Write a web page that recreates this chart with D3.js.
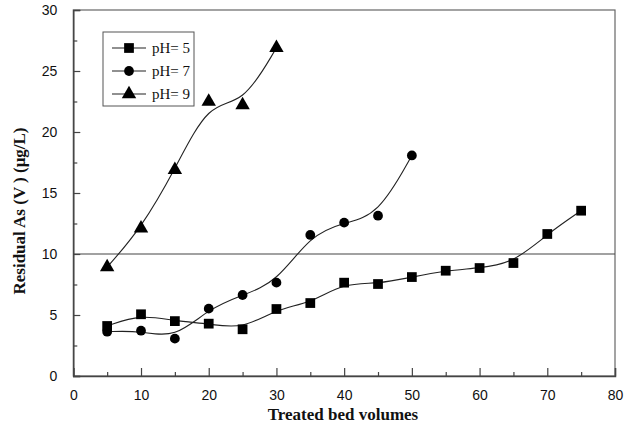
<!DOCTYPE html>
<html><head><meta charset="utf-8">
<script src="https://cdn.jsdelivr.net/npm/d3@7"></script>
<style>body{margin:0;background:#fff}svg{display:block}</style>
</head><body>
<script>
const bedVolumes = [5,10,15,20,25,30,35,40,45,50,55,60,65,70,75];
const ph5 = [4.1,5.06,4.5,4.29,3.83,5.49,5.98,7.65,7.54,8.11,8.63,8.85,9.26,11.64,13.55];
const ph7 = [3.63,3.71,3.06,5.52,6.64,7.65,11.56,12.57,13.14,18.08];
const ph9 = [8.93,12.1,16.9,22.5,22.2,26.9];
const seriesNames = ["pH= 5","pH= 7","pH= 9"];
const xTicks = [0,10,20,30,40,50,60,70,80];
const yTicks = [0,5,10,15,20,25,30];
const limitLine = 10;

const W=624,H=429;
const m={l:73.3,r:615,t:10,b:376};
const svg=d3.select("body").append("svg").attr("width",W).attr("height",H);
const x=d3.scaleLinear().domain([0,80]).range([m.l,m.r]);
const y=d3.scaleLinear().domain([0,30]).range([m.b,m.t]);
const axisCol="#444";

// frame
svg.append("rect").attr("x",m.l).attr("y",m.t).attr("width",m.r-m.l).attr("height",m.b-m.t)
  .attr("fill","none").attr("stroke","#666").attr("stroke-width",1.2);

// x axis
const xa=svg.append("g").attr("transform",`translate(0,${m.b})`)
  .call(d3.axisBottom(x).tickValues(xTicks).tickSize(-8).tickPadding(14).tickFormat(d3.format("d")));
xa.select(".domain").attr("stroke",axisCol).attr("stroke-width",1.5);
xa.selectAll(".tick line").attr("stroke",axisCol).attr("stroke-width",1.2);
xa.selectAll("text").attr("font-family","Liberation Sans, Arial, sans-serif").attr("font-size",14).attr("fill","#111");
const xm=svg.append("g").attr("transform",`translate(0,${m.b})`)
  .call(d3.axisBottom(x).tickValues(d3.range(5,80,10)).tickSize(-4).tickFormat(""));
xm.select(".domain").remove();
xm.selectAll(".tick line").attr("stroke",axisCol).attr("stroke-width",1.2);

// y axis
const ya=svg.append("g").attr("transform",`translate(${m.l},0)`)
  .call(d3.axisLeft(y).tickValues(yTicks).tickSize(-7).tickPadding(16).tickFormat(d3.format("d")));
ya.select(".domain").attr("stroke",axisCol).attr("stroke-width",1.5);
ya.selectAll(".tick line").attr("stroke",axisCol).attr("stroke-width",1.2);
ya.selectAll("text").attr("font-family","Liberation Sans, Arial, sans-serif").attr("font-size",14).attr("fill","#111");
const ym=svg.append("g").attr("transform",`translate(${m.l},0)`)
  .call(d3.axisLeft(y).tickValues(d3.range(2.5,30,5)).tickSize(-4).tickFormat(""));
ym.select(".domain").remove();
ym.selectAll(".tick line").attr("stroke",axisCol).attr("stroke-width",1.2);

// limit line
svg.append("line").attr("x1",x(0)).attr("x2",x(80)).attr("y1",y(limitLine)).attr("y2",y(limitLine))
  .attr("stroke","#444").attr("stroke-width",1.2);

// series
const series=[ph5,ph7,ph9].map((v,i)=>({name:seriesNames[i],pts:v.map((d,j)=>[bedVolumes[j],d])}));
const shapes=[d3.symbolSquare,d3.symbolCircle,d3.symbolTriangle];
const sizes=[95,75,90];
const line=d3.line().x(d=>x(d[0])).y(d=>y(d[1])).curve(d3.curveBasis);
series.forEach((s,i)=>{
  svg.append("path").attr("d",line(s.pts)).attr("fill","none").attr("stroke","#222").attr("stroke-width",1.1);
  svg.selectAll(null).data(s.pts).enter().append("path")
    .attr("transform",d=>`translate(${x(d[0])},${y(d[1])})`)
    .attr("d",d3.symbol().type(shapes[i]).size(sizes[i])).attr("fill","#000");
});

// legend
const lg=svg.append("g");
lg.append("rect").attr("x",103).attr("y",32).attr("width",91).attr("height",74)
  .attr("fill","#fff").attr("stroke","#555").attr("stroke-width",1);
[48,71,94].forEach((yy,i)=>{
  lg.append("line").attr("x1",112).attr("x2",146).attr("y1",yy).attr("y2",yy).attr("stroke","#222").attr("stroke-width",1.1);
  lg.append("path").attr("transform",`translate(129,${yy})`).attr("d",d3.symbol().type(shapes[i]).size(sizes[i])).attr("fill","#000");
  lg.append("text").attr("x",152).attr("y",yy+5).text(seriesNames[i])
    .attr("font-family","Liberation Serif, Times New Roman, serif").attr("font-size",15).attr("fill","#111");
});

// titles
svg.append("text").attr("x",343).attr("y",420).attr("text-anchor","middle")
  .attr("font-family","Liberation Serif, Times New Roman, serif").attr("font-weight","bold").attr("font-size",17)
  .attr("fill","#111").text("Treated bed volumes");
svg.append("text").attr("transform","translate(25,211) rotate(-90)").attr("text-anchor","middle")
  .attr("font-family","Liberation Serif, Times New Roman, serif").attr("font-weight","bold").attr("font-size",17)
  .attr("fill","#111").text("Residual As (V ) (μg/L)");
</script>
</body></html>
